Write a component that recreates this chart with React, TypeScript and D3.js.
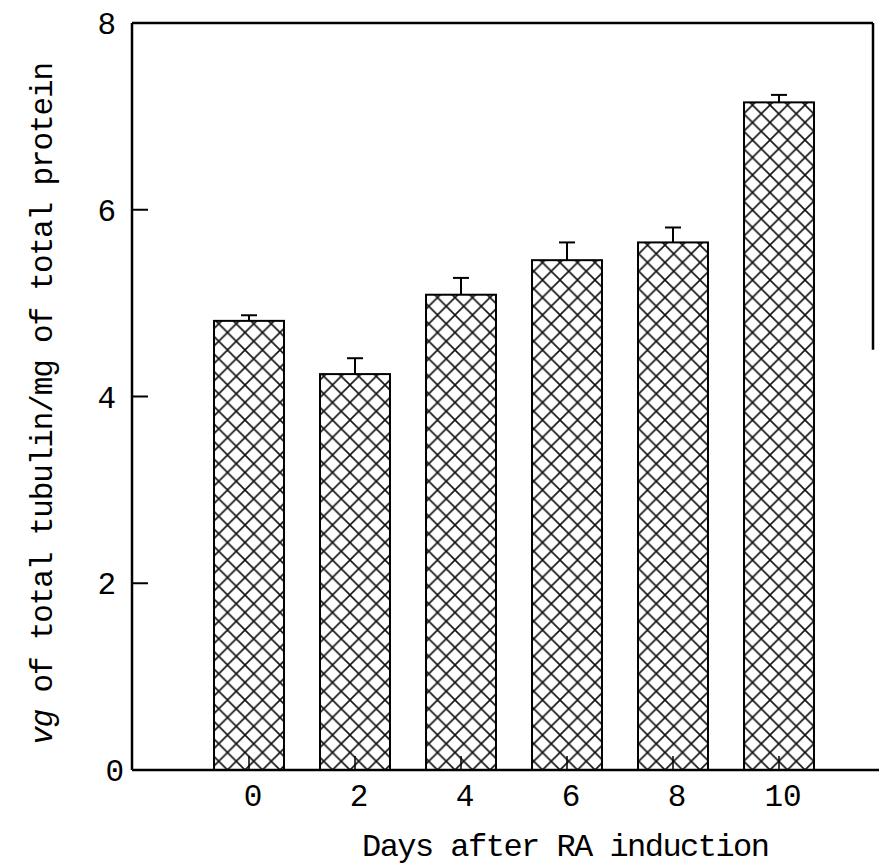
import React from 'react';
import * as d3 from 'd3';

// days after RA induction, mean tubulin content and error
const days = ['0', '2', '4', '6', '8', '10'];
const tubulin = [4.81, 4.24, 5.09, 5.46, 5.65, 7.15];
const errors = [0.06, 0.17, 0.18, 0.19, 0.16, 0.08];
const yTicks = [0, 2, 4, 6, 8];

const W = 879;
const H = 866;
const left = 132;
const right = 873;
const top = 23;
const bottom = 770;

export default function App() {
  const x = d3
    .scaleBand<string>()
    .domain(days)
    .range([196, 832])
    .paddingInner(0.34)
    .paddingOuter(0.17);

  const y = d3.scaleLinear().domain([0, 8]).range([bottom, top]);

  const font = '"Liberation Mono", monospace';
  const cap = 8;

  return (
    <svg
      width={W}
      height={H}
      viewBox={`0 0 ${W} ${H}`}
      style={{ position: 'absolute', left: 0, top: 0, background: '#fff' }}
    >
      <defs>
        <pattern id="xhatch" patternUnits="userSpaceOnUse" width={17.5} height={17.5}>
          <path d="M0,0 L17.5,17.5 M17.5,0 L0,17.5" stroke="#111" strokeWidth={1.6} />
        </pattern>
      </defs>

      {/* bars */}
      {tubulin.map((v, i) => (
        <rect
          key={days[i]}
          x={x(days[i])}
          y={y(v)}
          width={x.bandwidth()}
          height={y(0) - y(v)}
          fill="url(#xhatch)"
          stroke="#000"
          strokeWidth={2}
        />
      ))}

      {/* error bars */}
      {tubulin.map((v, i) => {
        const cx = (x(days[i]) as number) + x.bandwidth() / 2;
        return (
          <g key={'e' + i} stroke="#000" strokeWidth={2}>
            <line x1={cx} x2={cx} y1={y(v)} y2={y(v + errors[i])} />
            <line x1={cx - cap} x2={cx + cap} y1={y(v + errors[i])} y2={y(v + errors[i])} />
          </g>
        );
      })}

      {/* frame */}
      <g stroke="#000" strokeWidth={2.5} fill="none">
        <line x1={left} x2={left} y1={top} y2={bottom} />
        <line x1={left} x2={W} y1={bottom} y2={bottom} />
        <line x1={left} x2={right} y1={top} y2={top} />
        <line x1={right} x2={right} y1={top} y2={y(4.5)} />
      </g>

      {/* y ticks */}
      {yTicks.map(t => (
        <g key={'y' + t}>
          {t > 0 && t < 8 && (
            <line x1={left} x2={left + 16} y1={y(t)} y2={y(t)} stroke="#000" strokeWidth={2} />
          )}
          <text
            x={t === 0 ? 124 : 116}
            y={y(t)}
            dy="0.36em"
            textAnchor="end"
            fontFamily={font}
            fontSize={31}
          >
            {t}
          </text>
        </g>
      ))}

      {/* x ticks */}
      {days.map(d => {
        const cx = (x(d) as number) + x.bandwidth() / 2;
        return (
          <g key={'x' + d}>
            <line x1={cx} x2={cx} y1={bottom} y2={bottom - 14} stroke="#000" strokeWidth={1.5} />
            <text
              x={cx + 4}
              y={806}
              textAnchor="middle"
              fontFamily={font}
              fontSize={31}
            >
              {d}
            </text>
          </g>
        );
      })}

      {/* axis titles */}
      <text
        x={362}
        y={856}
        fontFamily={font}
        fontSize={32}
        textLength={408}
        lengthAdjust="spacing"
      >
        Days after RA induction
      </text>
      <text
        transform="translate(52,745) rotate(-90)"
        fontFamily={font}
        fontSize={31}
        textLength={683}
        lengthAdjust="spacing"
      >
        <tspan fontStyle="italic">vg</tspan> of total tubulin/mg of total protein
      </text>
    </svg>
  );
}
